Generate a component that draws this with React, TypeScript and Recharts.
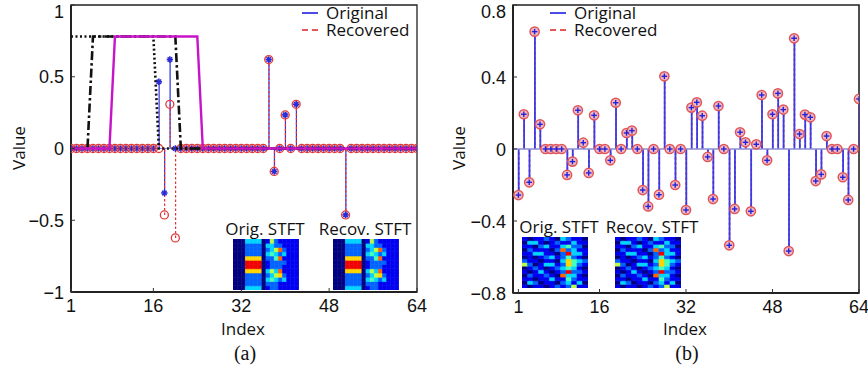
import React from 'react';
import {
  ComposedChart,
  BarChart,
  Bar,
  Cell,
  Line,
  Scatter,
  XAxis,
  YAxis,
  ReferenceLine,
  ReferenceArea,
} from 'recharts';

const indexLabels = Array.from({ length: 64 }, (_, i) => i + 1);
const xTicks = [1, 16, 32, 48, 64];
const aYTicks = [-1, -0.5, 0, 0.5, 1];
const bYTicks = [-0.8, -0.4, 0, 0.4, 0.8];

// (a) sparse signal, 64 samples (rows of 16)
const aOriginal = [
  0, 0, 0, 0, 0, 0, 0, 0, 0, 0, 0, 0, 0, 0, 0, 0,
  0.465, -0.31, 0.62, 0, 0, 0, 0, 0, 0, 0, 0, 0, 0, 0, 0, 0,
  0, 0, 0, 0, 0.62, -0.16, 0, 0.234, 0, 0.308, 0, 0, 0, 0, 0, 0,
  0, 0, -0.463, 0, 0, 0, 0, 0, 0, 0, 0, 0, 0, 0, 0, 0,
];
const aRecovered = [
  0, 0, 0, 0, 0, 0, 0, 0, 0, 0, 0, 0, 0, 0, 0, 0,
  0, -0.463, 0.308, -0.623, 0, 0, 0, 0, 0, 0, 0, 0, 0, 0, 0, 0,
  0, 0, 0, 0, 0.62, -0.16, 0, 0.234, 0, 0.308, 0, 0, 0, 0, 0, 0,
  0, 0, -0.463, 0, 0, 0, 0, 0, 0, 0, 0, 0, 0, 0, 0, 0,
];
// sliding windows
const aWinDotted = [
  0.78, 0.78, 0.78, 0.78, 0.78, 0.78, 0.78, 0.78, 0.78, 0.78, 0.78, 0.78, 0.78, 0.78, 0.78, 0.78,
  0, 0, 0, 0, 0, 0, 0, 0, 0, 0, 0, 0, 0, 0, 0, 0,
  0, 0, 0, 0, 0, 0, 0, 0, 0, 0, 0, 0, 0, 0, 0, 0,
  0, 0, 0, 0, 0, 0, 0, 0, 0, 0, 0, 0, 0, 0, 0, 0,
];
const aWinDashDot = [
  0, 0, 0, 0, 0.78, 0.78, 0.78, 0.78, 0.78, 0.78, 0.78, 0.78, 0.78, 0.78, 0.78, 0.78,
  0.78, 0.78, 0.78, 0.78, 0, 0, 0, 0, 0, 0, 0, 0, 0, 0, 0, 0,
  0, 0, 0, 0, 0, 0, 0, 0, 0, 0, 0, 0, 0, 0, 0, 0,
  0, 0, 0, 0, 0, 0, 0, 0, 0, 0, 0, 0, 0, 0, 0, 0,
];
const aWinSolid = [
  0, 0, 0, 0, 0, 0, 0, 0, 0.78, 0.78, 0.78, 0.78, 0.78, 0.78, 0.78, 0.78,
  0.78, 0.78, 0.78, 0.78, 0.78, 0.78, 0.78, 0.78, 0, 0, 0, 0, 0, 0, 0, 0,
  0, 0, 0, 0, 0, 0, 0, 0, 0, 0, 0, 0, 0, 0, 0, 0,
  0, 0, 0, 0, 0, 0, 0, 0, 0, 0, 0, 0, 0, 0, 0, 0,
];

// (b) dense signal
const bOriginal = [
  -0.256, 0.193, -0.185, 0.652, 0.137, 0, 0, 0, 0, -0.144, -0.07, 0.215, 0.035, -0.133, 0.187, 0,
  0, -0.063, 0.257, 0, 0.089, 0.102, 0, -0.228, -0.319, 0, -0.254, 0.404, 0, -0.2, 0, -0.339,
  0.23, 0.259, 0.185, -0.044, -0.278, 0.239, 0, -0.535, -0.333, 0.093, 0.037, -0.346, 0.026, 0.3, -0.063, 0.193,
  0.309, 0.219, -0.567, 0.615, 0.083, 0.191, 0.176, -0.178, -0.141, 0.072, 0, 0, -0.157, -0.283, 0, 0.278,
];
const bRecovered = [
  -0.256, 0.193, -0.185, 0.652, 0.137, 0, 0, 0, 0, -0.144, -0.07, 0.215, 0.035, -0.133, 0.187, 0,
  0, -0.063, 0.257, 0, 0.089, 0.102, 0, -0.228, -0.319, 0, -0.254, 0.404, 0, -0.2, 0, -0.339,
  0.23, 0.259, 0.185, -0.044, -0.278, 0.239, 0, -0.535, -0.333, 0.093, 0.037, -0.346, 0.026, 0.3, -0.063, 0.193,
  0.309, 0.219, -0.567, 0.615, 0.083, 0.191, 0.176, -0.178, -0.141, 0.072, 0, 0, -0.157, -0.283, 0, 0.278,
];

// STFT magnitudes (0..9), rows top to bottom
const aStft = [
  [0, 0, 0, 3, 3, 3, 3, 0, 1, 5, 2, 1, 1, 1, 1, 1],
  [0, 0, 0, 2, 2, 2, 2, 0, 3, 3, 2, 2, 1, 1, 1, 1],
  [0, 0, 0, 2, 2, 2, 2, 0, 2, 3, 5, 7, 2, 1, 1, 1],
  [0, 0, 0, 2, 2, 2, 2, 0, 3, 4, 3, 2, 3, 1, 1, 1],
  [0, 0, 0, 6, 6, 6, 6, 0, 2, 2, 4, 7, 1, 1, 1, 1],
  [0, 0, 0, 8, 8, 8, 8, 0, 1, 2, 2, 2, 2, 1, 1, 1],
  [0, 0, 0, 8, 8, 8, 8, 0, 1, 2, 2, 2, 1, 1, 1, 1],
  [0, 0, 0, 6, 6, 6, 6, 0, 3, 5, 3, 7, 1, 1, 1, 1],
  [0, 0, 0, 2, 2, 2, 2, 0, 2, 3, 5, 6, 2, 1, 1, 1],
  [0, 0, 0, 2, 2, 2, 2, 0, 3, 4, 3, 2, 3, 1, 1, 1],
  [0, 0, 0, 2, 2, 2, 2, 0, 2, 2, 2, 1, 1, 1, 1, 1],
  [0, 0, 0, 3, 3, 3, 3, 0, 1, 2, 2, 1, 1, 1, 1, 1],
];
const bStft = [
  [1, 0, 1, 1, 2, 1, 0, 3, 2, 1, 1, 0],
  [0, 3, 3, 1, 0, 1, 2, 1, 1, 3, 1, 1],
  [1, 1, 0, 2, 3, 1, 1, 3, 4, 2, 2, 0],
  [0, 2, 1, 1, 1, 0, 2, 7, 2, 3, 1, 1],
  [1, 1, 3, 3, 1, 1, 0, 2, 8, 3, 3, 1],
  [0, 1, 0, 1, 2, 3, 1, 2, 4, 2, 1, 0],
  [2, 1, 1, 0, 1, 1, 0, 3, 6, 4, 3, 2],
  [5, 2, 0, 1, 3, 3, 1, 2, 6, 4, 2, 1],
  [0, 1, 2, 1, 0, 1, 2, 3, 4, 3, 1, 0],
  [1, 0, 1, 3, 1, 0, 1, 2, 8, 2, 2, 1],
  [0, 2, 1, 1, 2, 1, 0, 7, 3, 3, 1, 0],
  [1, 1, 0, 1, 1, 3, 1, 1, 4, 2, 1, 1],
  [0, 3, 2, 0, 1, 1, 0, 2, 3, 1, 3, 0],
  [1, 0, 1, 1, 0, 1, 2, 1, 2, 5, 1, 1],
];

const aData = indexLabels.map((idx, i) => ({
  idx,
  orig: aOriginal[i],
  rec: aRecovered[i],
  wDot: aWinDotted[i],
  wDashDot: aWinDashDot[i],
  wSolid: aWinSolid[i],
}));
const bData = indexLabels.map((idx, i) => ({ idx, orig: bOriginal[i], rec: bRecovered[i] }));

const TICK_FONT = 'Liberation Sans, Arial, sans-serif';
const LABEL_FONT = '"Open Sans", "Noto Sans", sans-serif';

const fmt = (v: number) => (v < 0 ? '\u2212' + String(-v) : String(v));

const jet = (t: number) => {
  const c = (v: number) => Math.round(255 * Math.min(1, Math.max(0, v)));
  return `rgb(${c(1.5 - Math.abs(4 * t - 3))},${c(1.5 - Math.abs(4 * t - 2))},${c(1.5 - Math.abs(4 * t - 1))})`;
};

const XTick = (props: any) => {
  const { x, y, payload } = props;
  return (
    <g>
      <line x1={x} x2={x} y1={y} y2={y - 4} stroke="#333" strokeWidth={1} />
      <text x={x} y={y + 20} textAnchor="middle" fontSize={18} fontFamily={TICK_FONT} fill="#111">
        {payload.value}
      </text>
    </g>
  );
};

const YTick = (props: any) => {
  const { x, y, payload } = props;
  return (
    <g>
      <line x1={x} x2={x + 4} y1={y} y2={y} stroke="#333" strokeWidth={1} />
      <text x={x - 7} y={Math.max(y + 6.5, 18)} textAnchor="end" fontSize={18} fontFamily={TICK_FONT} fill="#111">
        {fmt(payload.value)}
      </text>
    </g>
  );
};

const stem = (color: string, width: number, dash?: string) => (props: any) => {
  const { x, y, width: w, height: h } = props;
  if (x == null || !h) return <g />;
  const cx = x + w / 2;
  return <line x1={cx} x2={cx} y1={y} y2={y + h} stroke={color} strokeWidth={width} strokeDasharray={dash} />;
};

const StarMark = (props: any) => {
  const { cx, cy } = props;
  if (cx == null) return <g />;
  const r = 3.2;
  return (
    <g stroke="#2b2bd6" strokeWidth={1.6}>
      <line x1={cx} x2={cx} y1={cy - r} y2={cy + r} />
      <line x1={cx - r} x2={cx + r} y1={cy} y2={cy} />
      <line x1={cx - r * 0.7} x2={cx + r * 0.7} y1={cy - r * 0.7} y2={cy + r * 0.7} />
      <line x1={cx - r * 0.7} x2={cx + r * 0.7} y1={cy + r * 0.7} y2={cy - r * 0.7} />
    </g>
  );
};

const RingMark = (props: any) => {
  const { cx, cy } = props;
  if (cx == null) return <g />;
  return <circle cx={cx} cy={cy} r={4} fill="none" stroke="#e23a3a" strokeWidth={1.3} />;
};

const FilledRing = (props: any) => {
  const { cx, cy } = props;
  if (cx == null) return <g />;
  return <circle cx={cx} cy={cy} r={4.6} fill="#f2b8c0" stroke="#e0555a" strokeWidth={1.5} />;
};

const PlusMark = (props: any) => {
  const { cx, cy } = props;
  if (cx == null) return <g />;
  return (
    <g stroke="#2222dd" strokeWidth={1.4}>
      <line x1={cx - 2.8} x2={cx + 2.8} y1={cy} y2={cy} />
      <line x1={cx} x2={cx} y1={cy - 2.8} y2={cy + 2.8} />
    </g>
  );
};

function StftInset({ grid, left, top, width, height }: any) {
  const rows = grid.length;
  const cols = grid[0].map((_: number, c: number) => {
    const o: any = { col: c };
    grid.forEach((_r: number[], k: number) => {
      o['r' + k] = 1;
    });
    return o;
  });
  return (
    <div style={{ position: 'absolute', left, top }}>
      <BarChart width={width} height={height} data={cols} margin={{ top: 0, right: 0, bottom: 0, left: 0 }} barCategoryGap={0}>
        <XAxis dataKey="col" hide />
        <YAxis hide domain={[0, rows]} />
        {grid.map((_r: number[], k: number) => (
          <Bar key={k} dataKey={'r' + k} stackId="s" isAnimationActive={false}>
            {cols.map((_c: any, c: number) => {
              const color = jet(grid[rows - 1 - k][c] / 9);
              return <Cell key={c} fill={color} stroke={color} strokeWidth={0.6} />;
            })}
          </Bar>
        ))}
      </BarChart>
    </div>
  );
}

const abs = (left: number, top: number, extra: any = {}) => ({ position: 'absolute' as const, left, top, ...extra });

function LegendBox({ left, top }: any) {
  const row = (label: string, color: string, dash: string | undefined, y: number) => (
    <div style={abs(0, y, { display: 'flex', alignItems: 'center', height: 16, lineHeight: '16px' })}>
      <svg width={26} height={16}>
        <line x1={2} x2={18} y1={8} y2={8} stroke={color} strokeWidth={1.6} strokeDasharray={dash} />
      </svg>
      <span style={{ fontFamily: LABEL_FONT, fontSize: 17, lineHeight: '16px', color: '#111', whiteSpace: 'nowrap' }}>{label}</span>
    </div>
  );
  return (
    <div style={abs(left, top)}>
      {row('Original', '#2020e0', undefined, 0)}
      {row('Recovered', '#e02020', '6 4', 16.5)}
    </div>
  );
}

const textStyle = (cx: number, cy: number, size: number, family: string, rotate = false) => ({
  position: 'absolute' as const,
  left: cx,
  top: cy,
  transform: `translate(-50%, -50%)${rotate ? ' rotate(-90deg)' : ''}`,
  fontFamily: family,
  fontSize: size,
  color: '#111',
  whiteSpace: 'nowrap' as const,
  lineHeight: 1,
});

function PanelA() {
  return (
    <ComposedChart width={440} height={371} data={aData} margin={{ top: 5, right: 23, bottom: 49, left: 11 }}>
      <XAxis xAxisId="x" dataKey="idx" type="number" domain={[1, 64]} ticks={xTicks} interval={0} tickSize={0} tickMargin={0} tickLine={false} tick={<XTick />} axisLine={{ stroke: '#222', strokeWidth: 2 }} height={30} allowDataOverflow />
      <XAxis xAxisId="x2" dataKey="idx" type="number" domain={[1, 64]} hide allowDataOverflow />
      <YAxis domain={[-1, 1]} ticks={aYTicks} interval={0} tickSize={0} tickMargin={0} tickLine={false} tick={<YTick />} axisLine={{ stroke: '#222', strokeWidth: 2 }} width={60} allowDataOverflow />
      <ReferenceArea xAxisId="x" x1={1} x2={64} y1={-1} y2={1} fill="none" fillOpacity={0} stroke="#222" strokeWidth={1.3} />
      <ReferenceLine xAxisId="x" y={0} stroke="#8a8ad0" strokeWidth={1} />
      <Bar xAxisId="x" dataKey="orig" barSize={2} isAnimationActive={false} shape={stem('#2f2fe0', 1.2)} />
      <Bar xAxisId="x2" dataKey="rec" barSize={2} isAnimationActive={false} shape={stem('#e43434', 1.2, '2.5 2')} />
      <Scatter xAxisId="x" dataKey="orig" isAnimationActive={false} shape={StarMark} />
      <Scatter xAxisId="x" dataKey="rec" isAnimationActive={false} shape={RingMark} />
      <Line xAxisId="x" type="linear" dataKey="wDot" stroke="#111" strokeWidth={2.6} strokeDasharray="2 2.5" dot={false} activeDot={false} isAnimationActive={false} zIndex={1000} />
      <Line xAxisId="x" type="linear" dataKey="wDashDot" stroke="#111" strokeWidth={2.6} strokeDasharray="9 3 2.5 3" dot={false} activeDot={false} isAnimationActive={false} zIndex={1001} />
      <Line xAxisId="x" type="linear" dataKey="wSolid" stroke="#c814c8" strokeWidth={2.4} dot={false} activeDot={false} isAnimationActive={false} zIndex={1002} />
    </ComposedChart>
  );
}

function PanelB() {
  return (
    <ComposedChart width={428} height={371} data={bData} margin={{ top: 5, right: 9, bottom: 48, left: 13 }}>
      <XAxis xAxisId="x" dataKey="idx" type="number" domain={[0, 64]} ticks={xTicks} interval={0} tickSize={0} tickMargin={0} tickLine={false} tick={<XTick />} axisLine={{ stroke: '#222', strokeWidth: 2 }} height={30} allowDataOverflow />
      <XAxis xAxisId="x2" dataKey="idx" type="number" domain={[0, 64]} hide allowDataOverflow />
      <YAxis domain={[-0.8, 0.8]} ticks={bYTicks} interval={0} tickSize={0} tickMargin={0} tickLine={false} tick={<YTick />} axisLine={{ stroke: '#222', strokeWidth: 2 }} width={60} allowDataOverflow />
      <ReferenceArea xAxisId="x" x1={0} x2={64} y1={-0.8} y2={0.8} fill="none" fillOpacity={0} stroke="#222" strokeWidth={1.6} />
      <Bar xAxisId="x2" dataKey="rec" barSize={2} isAnimationActive={false} shape={stem('#e04040', 1.6, '3 2')} />
      <ReferenceLine xAxisId="x" y={0} stroke="#8c8cd2" strokeWidth={1.5} />
      <Bar xAxisId="x" dataKey="orig" barSize={2} isAnimationActive={false} shape={stem('#3a3ae8', 1.8)} />
      <Scatter xAxisId="x" dataKey="rec" isAnimationActive={false} shape={FilledRing} />
      <Scatter xAxisId="x" dataKey="orig" isAnimationActive={false} shape={PlusMark} />
    </ComposedChart>
  );
}

export default function App() {
  return (
    <div style={{ position: 'absolute', left: 0, top: 0, width: 868, height: 371, background: '#fff', overflow: 'hidden' }}>
      <div style={abs(0, 0)}>
        <PanelA />
      </div>
      <div style={abs(440, 0)}>
        <PanelB />
      </div>

      <LegendBox left={300} top={5} />
      <LegendBox left={548} top={5} />

      <div style={textStyle(265, 228, 17, LABEL_FONT)}>Orig. STFT</div>
      <div style={textStyle(365, 228, 17, LABEL_FONT)}>Recov. STFT</div>
      <StftInset grid={aStft} left={233} top={239} width={66} height={51} />
      <StftInset grid={aStft} left={333} top={239} width={66} height={51} />

      <div style={textStyle(559, 226, 17, LABEL_FONT)}>Orig. STFT</div>
      <div style={textStyle(652, 226, 17, LABEL_FONT)}>Recov. STFT</div>
      <StftInset grid={bStft} left={522} top={237} width={66} height={51} />
      <StftInset grid={bStft} left={615} top={237} width={66} height={51} />

      <div style={textStyle(18, 148, 17, LABEL_FONT, true)}>Value</div>
      <div style={textStyle(458, 148, 17, LABEL_FONT, true)}>Value</div>
      <div style={textStyle(243, 328, 17, LABEL_FONT)}>Index</div>
      <div style={textStyle(685, 328, 17, LABEL_FONT)}>Index</div>
      <div style={textStyle(245, 353, 20, 'Liberation Serif, Times New Roman, serif')}>(a)</div>
      <div style={textStyle(687, 353, 20, 'Liberation Serif, Times New Roman, serif')}>(b)</div>
    </div>
  );
}
